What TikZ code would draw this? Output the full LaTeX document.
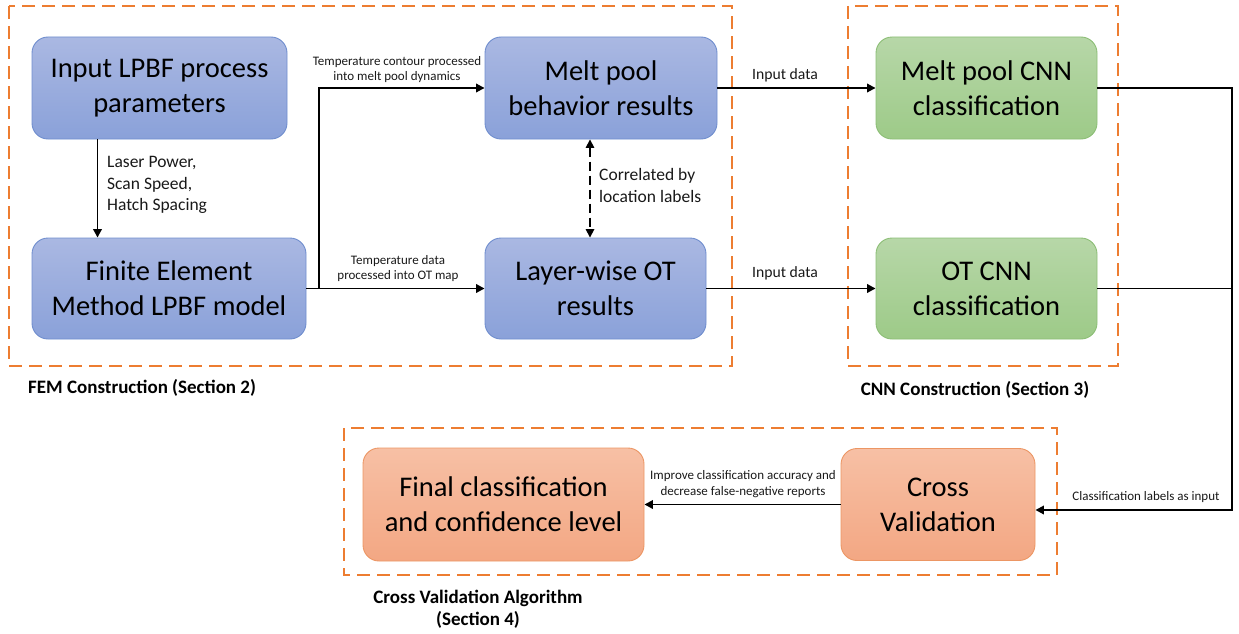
\documentclass[tikz,border=0pt]{standalone}
\usepackage{fontspec}
\setmainfont{Carlito}
\usetikzlibrary{arrows.meta}
\definecolor{bluetop}{RGB}{170,184,226}
\definecolor{bluebot}{RGB}{138,161,217}
\definecolor{bluedraw}{RGB}{112,142,206}
\definecolor{greentop}{RGB}{183,215,168}
\definecolor{greenbot}{RGB}{157,202,136}
\definecolor{greendraw}{RGB}{140,190,118}
\definecolor{orangetop}{RGB}{247,192,165}
\definecolor{orangebot}{RGB}{243,167,131}
\definecolor{orangedraw}{RGB}{236,150,100}
\definecolor{dashorange}{RGB}{237,125,49}
\definecolor{txt}{RGB}{25,25,25}
\tikzset{
  proc/.style={draw, line width=0.9pt, rounded corners=16pt, align=center,
    inner sep=0pt, text=black, font=\fontsize{28.5}{35}\selectfont},
  bluebox/.style={proc, draw=bluedraw, top color=bluetop, bottom color=bluebot},
  greenbox/.style={proc, draw=greendraw, top color=greentop, bottom color=greenbot},
  orangebox/.style={proc, draw=orangedraw, top color=orangetop, bottom color=orangebot},
  group/.style={draw=dashorange, line width=2.6pt, dash pattern=on 13pt off 7pt},
  conn/.style={line width=1.9pt, -{Triangle[length=8.5pt,width=8.5pt]}},
  plain/.style={line width=1.9pt},
  smalllab/.style={font=\fontsize{13}{15.5}\selectfont, align=center, inner sep=0pt, text=txt},
  midlab/.style={font=\fontsize{17.5}{21.5}\selectfont, align=left, inner sep=0pt, text=txt},
  datalab/.style={font=\fontsize{15.7}{18}\selectfont, inner sep=0pt, text=txt},
  seclab/.style={font=\bfseries\fontsize{19}{22}\selectfont, align=center, inner sep=0pt, text=black}
}
\begin{document}
\begin{tikzpicture}[x=1pt,y=-1pt]
\useasboundingbox (0,0) rectangle (1239,634);
% groups
\draw[group] (9,6) rectangle (732,366);
\draw[group] (848,6) rectangle (1118,366);
\draw[group] (344,428) rectangle (1057,575);
% nodes
\node[bluebox, minimum width=255pt, minimum height=102pt] (inp) at (159.5,88) {Input LPBF process\\parameters};
\node[bluebox, minimum width=274pt, minimum height=101pt] (fem) at (169,288.5) {Finite Element\\Method LPBF model};
\node[bluebox, minimum width=232pt, minimum height=102pt] (mp) at (601,88) {Melt pool\\behavior results};
\node[bluebox, minimum width=221pt, minimum height=101pt] (ot) at (595.5,288.5) {Layer-wise OT\\results};
\node[greenbox, minimum width=221pt, minimum height=102pt] (mpcnn) at (986.5,88) {Melt pool CNN\\classification};
\node[greenbox, minimum width=221pt, minimum height=101pt] (otcnn) at (986.5,288.5) {OT CNN\\classification};
\node[orangebox, minimum width=281pt, minimum height=113pt] (fin) at (503.5,504.5) {Final classification\\and confidence level};
\node[orangebox, minimum width=194pt, minimum height=112pt] (cv) at (938,504.5) {Cross\\Validation};
% helper coordinates
\coordinate (jx) at (319,0);
\coordinate (dx) at (590,0);
\coordinate (rt) at (1232,510);
% connectors
\draw[conn] (inp.south -| 97.5,0) -- (fem.north -| 97.5,0);
\draw[conn] (fem.east) -- (fem.east -| jx) |- (mp.west);
\draw[conn] (fem.east) -- (ot.west);
\draw[line width=1.6pt, dash pattern=on 9pt off 5pt, {Triangle[length=8.5pt,width=8.5pt]}-{Triangle[length=8.5pt,width=8.5pt]}] (mp.south -| dx) -- (ot.north -| dx);
\draw[conn] (mp.east) -- (mpcnn.west);
\draw[conn] (ot.east) -- (otcnn.west);
\draw[conn] (mpcnn.east) -| (rt) -- (rt -| cv.east);
\draw[plain] (otcnn.east) -- (otcnn.east -| rt);
\draw[conn] (cv.west) -- (fin.east);
% labels
\node[midlab, anchor=west] (lp) at (107,185) {Laser Power,\\Scan Speed,\\Hatch Spacing};
\node[smalllab] (tc) at (397,69.5) {Temperature contour processed\\into melt pool dynamics};
\node[smalllab] (td) at (398,268.5) {Temperature data\\processed into OT map};
\node[midlab, anchor=west] (cl) at (599,185.5) {Correlated by\\location labels};
\node[datalab] (id1) at (785,75) {Input data};
\node[datalab] (id2) at (785,273) {Input data};
\node[smalllab] (ic) at (743,484) {Improve classification accuracy and\\decrease false-negative reports};
\node[smalllab] (cli) at (1146,497) {Classification labels as input};
\node[seclab, anchor=west] (s2) at (28,388) {FEM Construction (Section 2)};
\node[seclab] (s3) at (975,390) {CNN Construction (Section 3)};
\node[seclab] (s4) at (478,609) {Cross Validation Algorithm\\(Section 4)};
\end{tikzpicture}
\end{document}
